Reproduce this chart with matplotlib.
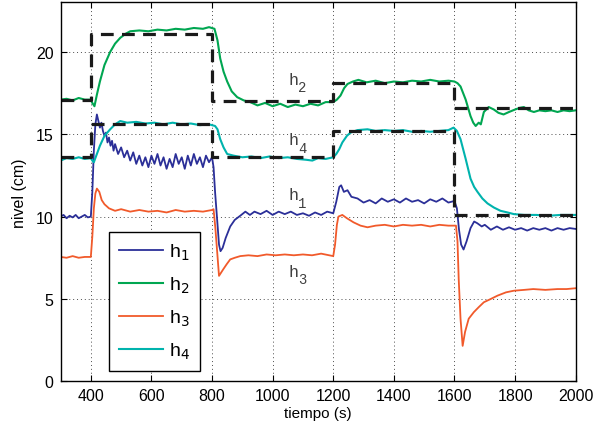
import matplotlib
matplotlib.use('Agg')
import matplotlib.pyplot as plt

plt.rcParams['font.family'] = ['Liberation Sans', 'DejaVu Sans']

# measured levels (time in s, level in cm)
t_h1 = [300, 310, 320, 330, 340, 350, 360, 370, 380, 390, 400, 405, 410, 415, 420, 425, 430, 435, 440, 445,
        450, 455, 460, 465, 470, 475, 480, 490, 500, 510, 520, 530, 540, 550, 560, 570, 580, 590, 600, 610,
        620, 630, 640, 650, 660, 670, 680, 690, 700, 710, 720, 730, 740, 750, 760, 770, 780, 790, 800, 805,
        810, 817, 823, 828, 835, 845, 860, 875, 893, 910, 925, 940, 960, 980, 1000, 1020, 1040, 1060, 1080, 1100,
        1120, 1140, 1160, 1180, 1200, 1210, 1220, 1226, 1235, 1247, 1260, 1280, 1300, 1320, 1340, 1360, 1380, 1400,
        1420, 1440, 1460, 1480, 1500, 1520, 1540, 1560, 1580, 1600, 1608, 1615, 1622, 1630, 1640, 1653, 1665, 1675,
        1690, 1700, 1720, 1740, 1760, 1780, 1800, 1820, 1840, 1860, 1880, 1900, 1920, 1940, 1960, 1980, 2000]
h1 = [10.0, 10.1, 9.9, 10.05, 9.95, 10.1, 9.9, 10.0, 10.1, 9.95, 10.0, 11.5, 14.0, 15.6, 16.2, 15.8, 15.4, 15.7, 15.2, 14.9,
      15.1, 14.5, 14.8, 14.3, 14.6, 14.0, 14.4, 13.8, 14.2, 13.6, 14.0, 13.4, 13.9, 13.2, 13.7, 13.1, 13.6, 13.0, 13.7, 13.2,
      13.8, 13.1, 13.6, 12.9, 13.5, 13.0, 13.8, 13.2, 13.6, 12.9, 13.7, 13.1, 13.8, 13.2, 13.6, 13.0, 13.7, 13.3, 13.6, 13.0,
      11.5, 9.8, 8.3, 7.9, 8.1, 8.7, 9.4, 9.8, 10.05, 10.3, 10.1, 10.3, 10.15, 10.35, 10.1, 10.3, 10.15, 10.3, 10.1, 10.2,
      10.05, 10.25, 10.1, 10.3, 10.2, 10.9, 11.8, 11.9, 11.5, 11.6, 11.2, 11.1, 10.85, 11.0, 10.8, 11.1, 10.9, 11.05,
      10.85, 11.1, 10.9, 11.0, 10.8, 11.05, 10.9, 11.1, 10.85, 10.95, 10.5, 9.2, 8.3, 8.0, 8.5, 9.3, 9.7, 9.6,
      9.4, 9.5, 9.2, 9.4, 9.2, 9.35, 9.2, 9.3, 9.15, 9.3, 9.2, 9.3, 9.15, 9.3, 9.2, 9.3, 9.25]

t_h2 = [300, 320, 340, 360, 380, 400, 405, 412, 420, 430, 445, 464, 480, 497, 515, 530, 560, 590, 620, 650,
        680, 710, 740, 770, 790, 808, 818, 827, 838, 850, 865, 883, 905, 926, 950, 975, 1000, 1025, 1050, 1075,
        1100, 1125, 1150, 1175, 1200, 1212, 1224, 1236, 1247, 1265, 1283, 1310, 1340, 1370, 1400, 1430, 1460, 1490,
        1520, 1550, 1580, 1600, 1610, 1620, 1637, 1653, 1662, 1670, 1680, 1687, 1697, 1705, 1713, 1730, 1745, 1762,
        1780, 1800, 1815, 1829, 1845, 1862, 1880, 1900, 1920, 1940, 1960, 1980, 2000]
h2 = [17.1, 17.15, 17.05, 17.2, 17.1, 17.1, 16.9, 16.7, 17.4, 18.2, 19.2, 20.0, 20.5, 20.85, 21.1, 21.25, 21.3, 21.25, 21.35, 21.3,
      21.4, 21.35, 21.45, 21.4, 21.5, 21.4, 20.7, 19.6, 18.8, 18.2, 17.6, 17.25, 17.05, 16.95, 16.75, 16.9, 16.7, 16.85, 16.65, 16.8,
      16.7, 16.85, 16.75, 16.95, 16.95, 17.1, 17.35, 17.8, 18.05, 18.2, 18.3, 18.15, 18.25, 18.1, 18.2, 18.15, 18.25, 18.2,
      18.3, 18.2, 18.25, 18.2, 18.1, 17.9, 17.1, 16.1, 15.7, 15.5, 15.7, 15.6, 16.35, 16.5, 16.65, 16.5, 16.3, 16.2,
      16.35, 16.5, 16.6, 16.65, 16.45, 16.35, 16.45, 16.4, 16.45, 16.35, 16.45, 16.4, 16.45]

t_h3 = [300, 320, 340, 360, 380, 400, 405, 410, 415, 420, 428, 436, 445, 460, 480, 500, 530, 560, 590, 620,
        650, 680, 710, 740, 770, 800, 805, 811, 817, 823, 830, 837, 848, 860, 875, 893, 920, 950, 980, 1010,
        1040, 1070, 1100, 1130, 1160, 1200, 1206, 1212, 1217, 1230, 1245, 1267, 1290, 1313, 1340, 1370, 1400, 1430,
        1460, 1490, 1520, 1550, 1580, 1605, 1610, 1614, 1620, 1627, 1635, 1647, 1664, 1680, 1697, 1720, 1742, 1770,
        1796, 1830, 1860, 1900, 1940, 1970, 2000]
h3 = [7.55, 7.5, 7.6, 7.5, 7.55, 7.55, 8.8, 10.5, 11.4, 11.7, 11.5, 11.0, 10.75, 10.5, 10.35, 10.45, 10.3, 10.4, 10.3, 10.35,
      10.25, 10.4, 10.3, 10.35, 10.3, 10.4, 10.45, 9.3, 7.85, 6.4, 6.6, 6.8, 7.1, 7.4, 7.5, 7.6, 7.65, 7.6, 7.7, 7.65,
      7.7, 7.65, 7.7, 7.65, 7.75, 7.6, 8.3, 9.5, 10.0, 10.1, 9.9, 9.65, 9.45, 9.35, 9.45, 9.5, 9.4, 9.5,
      9.45, 9.5, 9.4, 9.5, 9.45, 9.45, 8.5, 6.2, 3.8, 2.15, 3.0, 3.8, 4.2, 4.5, 4.8, 5.0, 5.2, 5.4,
      5.5, 5.55, 5.6, 5.55, 5.6, 5.6, 5.65]

t_h4 = [300, 320, 340, 360, 380, 400, 405, 410, 420, 430, 445, 464, 480, 497, 520, 550, 580, 610, 640, 670,
        700, 730, 760, 790, 810, 818, 827, 838, 850, 871, 900, 930, 960, 990, 1020, 1050, 1080, 1110, 1131, 1150,
        1175, 1200, 1210, 1220, 1230, 1245, 1257, 1280, 1313, 1340, 1370, 1400, 1430, 1460, 1490, 1520, 1550, 1580,
        1597, 1608, 1620, 1637, 1653, 1665, 1676, 1692, 1709, 1730, 1752, 1775, 1796, 1830, 1870, 1910, 1950, 2000]
h4 = [13.4, 13.55, 13.5, 13.6, 13.5, 13.55, 13.4, 13.3, 13.8, 14.3, 14.9, 15.3, 15.6, 15.8, 15.7, 15.75, 15.65, 15.7, 15.6, 15.7,
      15.6, 15.65, 15.55, 15.6, 15.5, 15.3, 14.7, 14.2, 13.8, 13.7, 13.6, 13.65, 13.55, 13.65, 13.55, 13.6, 13.5, 13.45, 13.4, 13.55,
      13.5, 13.6, 13.8, 14.1, 14.5, 14.9, 15.1, 15.25, 15.3, 15.2, 15.25, 15.2, 15.25, 15.15, 15.2, 15.15, 15.2, 15.25,
      15.4, 15.2, 14.7, 13.5, 12.3, 11.8, 11.5, 11.1, 10.8, 10.55, 10.35, 10.25, 10.15, 10.1, 10.1, 10.05, 10.1, 10.1]

# reference steps
ref_t = [300, 400, 800, 1200, 1600, 2000]
ref_h2 = [17.1, 21.1, 17.0, 18.1, 16.6, 16.6]
ref_h4 = [13.6, 15.6, 13.6, 15.2, 10.1, 10.1]

# curve label positions (h baseline) and subscripts
lab_names = ['2', '4', '1', '3']
lab_t = [1053, 1053, 1053, 1053]
lab_y = [18.05, 14.4, 11.05, 6.4]

fig = plt.figure(figsize=(6.07, 4.31), dpi=100)
ax = fig.add_axes([0.0997, 0.113, 0.8487, 0.879])

ax.plot(t_h1, h1, color='#2b2f98', lw=1.3, label=r'h$_1$')
ax.plot(t_h2, h2, color='#00a651', lw=1.5, label=r'h$_2$')
ax.plot(t_h3, h3, color='#f15a2b', lw=1.3, label=r'h$_3$')
ax.plot(t_h4, h4, color='#00b3ad', lw=1.5, label=r'h$_4$')

ax.step(ref_t, ref_h2, where='post', color='#1a1a1a', lw=2.3, dashes=(4, 2.6))
ax.step(ref_t, ref_h4, where='post', color='#1a1a1a', lw=2.3, dashes=(4, 2.6))

# curve labels in a typewriter font
for name, tx, ty in zip(lab_names, lab_t, lab_y):
    ax.text(tx, ty, 'h', family='Liberation Mono', fontsize=12, color='0.25', ha='left', va='baseline')
    ax.text(tx + 30, ty - 0.45, name, family='Liberation Mono', fontsize=10, color='0.25',
            ha='left', va='baseline')

ax.set_xlim(300, 2000)
ax.set_ylim(0, 23)
ax.set_xticks(range(400, 2001, 200))
ax.set_yticks([0, 5, 10, 15, 20])
ax.tick_params(direction='in', top=True, right=True, labelsize=11.5, length=4, pad=5)
ax.grid(True, linestyle=(0, (1, 3)), color='0.3', linewidth=0.7)
for s in ax.spines.values():
    s.set_linewidth(1.0)

ax.set_xlabel('tiempo (s)', fontsize=11, labelpad=2)
ax.set_ylabel('nivel (cm)', fontsize=11.5, labelpad=6)

leg = ax.legend(loc='upper left', bbox_to_anchor=(0.094, 0.394), fontsize=14, fancybox=False,
                framealpha=1, edgecolor='black', handlelength=2.3, handletextpad=0.3,
                labelspacing=0.65, borderpad=0.5, borderaxespad=0)
leg.get_frame().set_linewidth(1.0)

fig.savefig('out.png', dpi=100)
